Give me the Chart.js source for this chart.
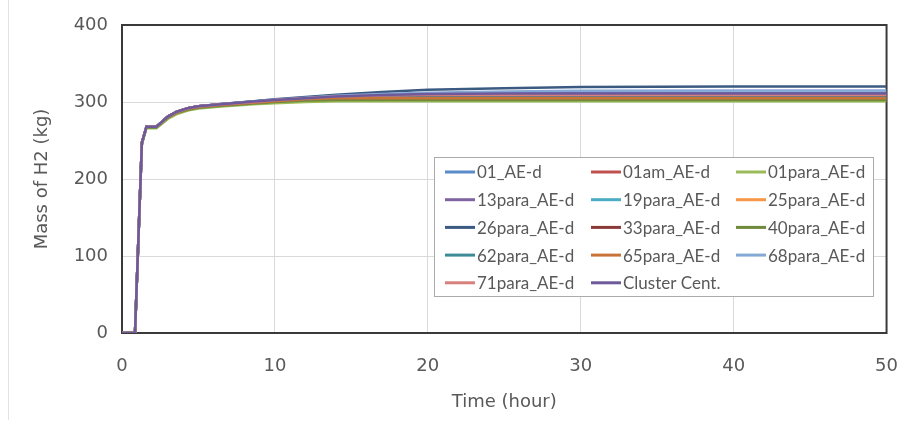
<!DOCTYPE html>
<html><head><meta charset="utf-8">
<script src="https://cdn.jsdelivr.net/npm/chart.js@4"></script>
<style>html,body{margin:0;padding:0;background:#fff;} #wrap{width:921px;height:425px;position:relative;}</style>
</head><body><div id="wrap"><canvas id="c" width="921" height="425"></canvas></div>
<script>
// ---- data ----
const timeHours   = [0, 0.85, 1.3, 1.6, 2.25, 3.0, 3.55, 4.3, 5, 6.5, 8.6, 10, 12, 14, 17, 20, 25, 30, 40, 50];
const xTickValues = [0, 10, 20, 30, 40, 50];
const yTickValues = [0, 100, 200, 300, 400];
const seriesNames = ["01_AE-d","01am_AE-d","01para_AE-d","13para_AE-d","19para_AE-d","25para_AE-d","26para_AE-d","33para_AE-d","40para_AE-d","62para_AE-d","65para_AE-d","68para_AE-d","71para_AE-d","Cluster Cent."];

const s01AEd     = [0,0,247,268,268,281,287,292,294.5,297.5,300.5,302.5,305,307.5,309.5,311,311.5,312,312,312];
const s01amAEd   = [0,0,247,268,268,281,287,292,294.5,297,300,302,304.5,306.5,307.5,308,308,308,308,308];
const s01paraAEd = [0,0,245,266,266,278,284,289,291.5,294,297,298.5,300,301,301,301,301,301,301,301];
const s13paraAEd = [0,0,247,268,268,281,287,292,294.5,297,300.5,302.5,305,307,309,310,310.5,310.5,310.5,310.5];
const s19paraAEd = [0,0,247,268,268,281,286.5,291.5,294,296.5,299.5,301.5,304,305.5,306.5,306.5,306.5,306.5,306.5,306.5];
const s25paraAEd = [0,0,247,268,268,280.5,286,291,293.5,296,299,301,303,304,304,304,304,304,304,304];
const s26paraAEd = [0,0,247,268,268,281,287,292,294.5,297.5,301,303.5,306.5,309.5,313,316,318,319.5,320,320];
const s33paraAEd = [0,0,247,268,268,281,287,292,294.5,297,300,302,304.5,306,307,307,307,307,307,307];
const s40paraAEd = [0,0,246,267,267,279.5,285.5,290,292.5,295,298,300,302,302.5,302.5,302.5,302.5,302.5,302.5,302.5];
const s62paraAEd = [0,0,247,268,268,281,286.5,291.5,294,296.5,299.5,301.5,303.5,305.5,306,306,306,306,306,306];
const s65paraAEd = [0,0,247,268,268,280.5,286,291,293.5,296,299,301,303.5,305,305,305,305,305,305,305];
const s68paraAEd = [0,0,247,268,268,281,287,292,294.5,297.5,300.5,303,305.5,308,310.5,312,313.5,314.5,315,315];
const s71paraAEd = [0,0,247,268,268,281,287,292,294.5,297,300,302.5,305,307,308.5,309,309,309,309,309];
const sCluster   = [0,0,247,268,268,281,287,292,294.5,297,300.5,302.5,305,307,309,310.5,311,311,311,311];

const seriesValues = [s01AEd,s01amAEd,s01paraAEd,s13paraAEd,s19paraAEd,s25paraAEd,s26paraAEd,s33paraAEd,s40paraAEd,s62paraAEd,s65paraAEd,s68paraAEd,s71paraAEd,sCluster];

// ---- styles ----
const palette = ["#5B8BC9","#C0504D","#9BBB59","#8064A2","#4BACC6","#F79646","#3B5A82","#8B3A38","#6E8A3A","#3D8B96","#C8733A","#85A9D6","#D7807E","#6E5A9A"];
const AXFONT = "'DejaVu Sans', Lato, sans-serif";
const LGFONT = "Lato, 'Open Sans', sans-serif";
const TXT = "#595959";

const datasets = seriesNames.map((name, i) => ({
  label: name,
  data: timeHours.map((t, k) => ({x: t, y: seriesValues[i][k]})),
  borderColor: palette[i],
  backgroundColor: palette[i],
  borderWidth: 2.5,
  pointRadius: 0,
  tension: 0,
  fill: false,
  order: seriesNames.length - i
}));

const framePlugin = {
  id: 'frame',
  beforeDraw(chart) {
    const ctx = chart.ctx;
    ctx.save();
    ctx.strokeStyle = "#E3E3E3"; ctx.lineWidth = 1;
    ctx.beginPath(); ctx.moveTo(8.5, 0); ctx.lineTo(8.5, 420); ctx.stroke();
    ctx.restore();
  },
  beforeDatasetsDraw(chart) {
    const {ctx, chartArea: a} = chart;
    ctx.save();
    ctx.strokeStyle = "#3A3A3A"; ctx.lineWidth = 2;
    ctx.strokeRect(a.left, a.top, a.right - a.left, a.bottom - a.top);
    ctx.restore();
  }
};

const legendPlugin = {
  id: 'boxLegend',
  afterDatasetsDraw(chart) {
    const ctx = chart.ctx;
    const bx = 434, by = 157, bw = 439, bh = 139;
    ctx.save();
    ctx.fillStyle = "#fff"; ctx.fillRect(bx, by, bw, bh);
    ctx.strokeStyle = "#ABABAB"; ctx.lineWidth = 1;
    ctx.strokeRect(bx + 0.5, by + 0.5, bw, bh);
    const colX = [445, 591, 736];
    const rowY0 = 172, rowH = 27.7;
    ctx.font = "17px " + LGFONT;
    ctx.textBaseline = "middle";
    ctx.textAlign = "left";
    chart.data.datasets.forEach((ds, i) => {
      const col = i % 3, row = Math.floor(i / 3);
      const x = colX[col], y = rowY0 + row * rowH;
      ctx.strokeStyle = ds.borderColor; ctx.lineWidth = 3;
      ctx.beginPath(); ctx.moveTo(x, y); ctx.lineTo(x + 30, y); ctx.stroke();
      ctx.fillStyle = TXT;
      ctx.fillText(ds.label, x + 32, y + 1);
    });
    ctx.restore();
  }
};

new Chart(document.getElementById('c'), {
  type: 'line',
  data: { datasets },
  plugins: [framePlugin, legendPlugin],
  options: {
    responsive: false,
    animation: false,
    devicePixelRatio: 1,
    layout: { padding: { top: 25, right: 30, left: 0, bottom: 0 } },
    plugins: { legend: { display: false }, tooltip: { enabled: false } },
    scales: {
      x: {
        type: 'linear', min: 0, max: 50,
        afterFit(s) { s.height = 92; },
        afterBuildTicks(s) { s.ticks = xTickValues.map(v => ({value: v})); },
        grid: { color: "#D9D9D9", lineWidth: 1, drawTicks: false },
        border: { display: false },
        ticks: { color: TXT, font: { family: AXFONT, size: 18 }, padding: 23, maxRotation: 0 },
        title: { display: true, text: "Time (hour)", color: TXT, font: { family: AXFONT, size: 18 }, padding: { top: 0, bottom: 12 } }
      },
      y: {
        type: 'linear', min: 0, max: 400,
        afterFit(s) { s.width = 122; },
        afterBuildTicks(s) { s.ticks = yTickValues.map(v => ({value: v})); },
        grid: { color: "#D9D9D9", lineWidth: 1, drawTicks: false },
        border: { display: false },
        ticks: { color: TXT, font: { family: AXFONT, size: 18 }, padding: 14 },
        title: { display: true, text: "Mass of H2 (kg)", color: TXT, font: { family: AXFONT, size: 18 }, padding: { top: 32, bottom: 0 } }
      }
    }
  }
});
</script>
</body></html>
